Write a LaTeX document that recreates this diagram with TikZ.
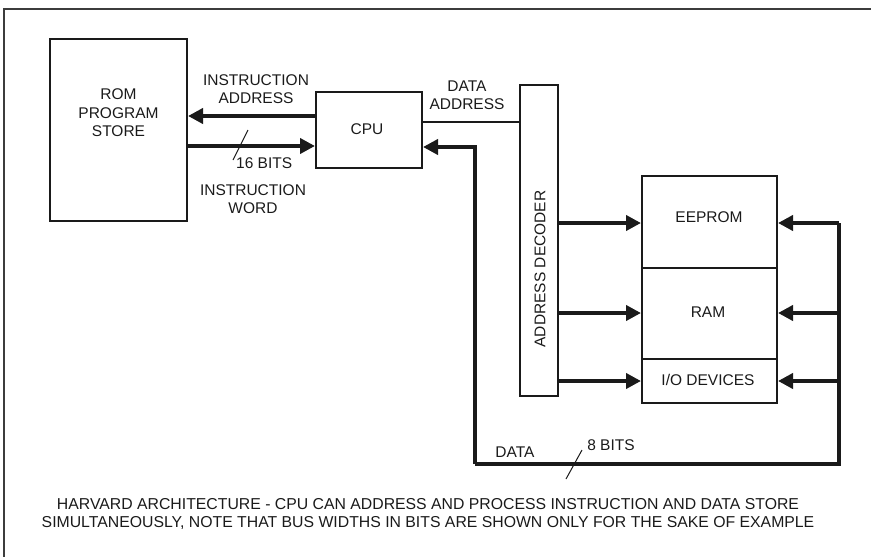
\documentclass[tikz,border=0pt]{standalone}
\usepackage{fontspec}
\setmainfont{Liberation Sans}
\usetikzlibrary{arrows.meta}
\definecolor{ink}{HTML}{1A1A1A}
\begin{document}
\begin{tikzpicture}[x=1pt,y=-1pt,
  box/.style={draw=ink, line width=2pt, inner sep=0pt},
  lbl/.style={text=ink, font=\fontsize{15.5}{18.5}\selectfont, align=center, inner sep=0pt},
  captxt/.style={text=ink, font=\fontsize{15.8}{18}\selectfont, align=center, inner sep=0pt},
  busline/.style={draw=ink, line width=4pt, line join=miter},
  bus/.style={busline, -{Triangle[length=15pt,width=15pt]}},
  addrline/.style={draw=ink, line width=2.5pt},
  tick/.style={draw=ink, line width=1pt},
  frameline/.style={draw=ink!85, line width=1.6pt}
]
\useasboundingbox (0,0) rectangle (871,557);
\draw[frameline] (4,557) -- (4,9) -- (871,9);

% boxes
\node[box, minimum width=137pt, minimum height=182pt] (rom) at (118.5,130) {};
\node[lbl] (romt) at (118.5,113) {ROM\\PROGRAM\\STORE};
\node[box, minimum width=106pt, minimum height=76pt] (cpu) at (369,130) {};
\node[lbl] (cput) at (367,129) {CPU};
\node[box, minimum width=38pt, minimum height=311pt] (dec) at (539,240.5) {};
\node[lbl, rotate=90] (dect) at (540,269) {ADDRESS DECODER};
\node[box, minimum width=135pt, minimum height=92pt] (eeprom) at (709.5,222) {};
\node[lbl] (eepromt) at (709,217) {EEPROM};
\node[box, minimum width=135pt, minimum height=91pt] (ram) at (709.5,313.5) {};
\node[lbl] (ramt) at (708,312) {RAM};
\node[box, minimum width=135pt, minimum height=44pt] (io) at (709.5,381) {};
\node[lbl] (iot) at (708,380) {I/O DEVICES};

% instruction buses
\draw[bus] (cpu.west |- 0,116) -- (rom.east |- 0,116);
\draw[bus] (rom.east |- 0,146) -- (cpu.west |- 0,146);
\node[lbl] (iaddr) at (256,89) {INSTRUCTION\\ADDRESS};
\node[lbl] (iword) at (253,199) {INSTRUCTION\\WORD};
\node[lbl, anchor=west] (b16) at (236,163) {16 BITS};
\draw[tick] (233,160) -- (248,130);

% data address
\draw[addrline] (cpu.east |- 0,122) -- (dec.west |- 0,122);
\node[lbl] (daddr) at (467,95) {DATA\\ADDRESS};

% decoder outputs
\draw[bus] (dec.east |- 0,223) -- (eeprom.west |- 0,223);
\draw[bus] (dec.east |- 0,313) -- (ram.west |- 0,313);
\draw[bus] (dec.east |- 0,381) -- (io.west |- 0,381);

% data bus
\coordinate (dbL) at (475,464);
\coordinate (dbR) at (839,464);
\draw[bus] (dbL) |- (cpu.east |- 0,147);
\draw[busline] (dbL) -- (dbR) -- (dbR |- 0,223);
\draw[bus] (dbR |- 0,223) -- (eeprom.east |- 0,223);
\draw[bus] (dbR |- 0,313) -- (ram.east |- 0,313);
\draw[bus] (dbR |- 0,381) -- (io.east |- 0,381);
\node[lbl] (datat) at (515,452) {DATA};
\node[lbl] (b8) at (611,445) {8 BITS};
\draw[tick] (582,450) -- (566,479);

% caption
\node[captxt] (caption) at (428,514) {HARVARD ARCHITECTURE - CPU CAN ADDRESS AND PROCESS INSTRUCTION AND DATA STORE\\SIMULTANEOUSLY, NOTE THAT BUS WIDTHS IN BITS ARE SHOWN ONLY FOR THE SAKE OF EXAMPLE};
\end{tikzpicture}
\end{document}
